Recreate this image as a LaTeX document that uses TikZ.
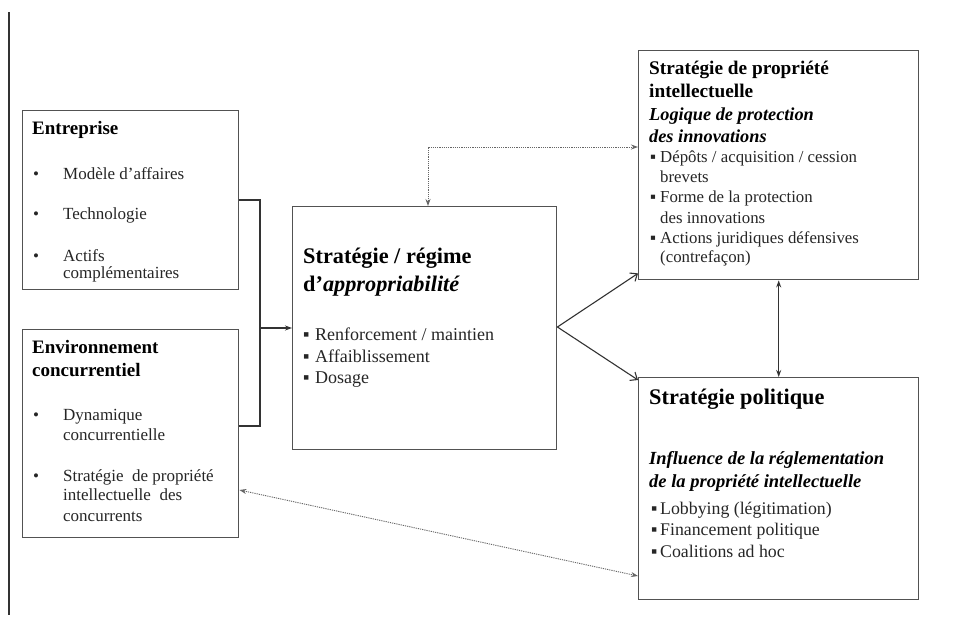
\documentclass[tikz,border=0pt]{standalone}
\usepackage{fontspec}
\setmainfont{Liberation Serif}
\usetikzlibrary{arrows.meta,calc}
\begin{document}
\begin{tikzpicture}[x=1pt,y=-1pt,
  box/.style={draw=black!68,line width=1.4pt,anchor=north west,inner sep=0pt},
  txt/.style={anchor=base west,inner sep=0pt,text=black!85},
  ltitle/.style={txt,text=black,font=\fontsize{19}{19}\selectfont\bfseries},
  litem/.style={txt,font=\fontsize{17}{17}\selectfont},
  ctitle/.style={txt,text=black,font=\fontsize{22.3}{22}\selectfont\bfseries},
  citem/.style={txt,font=\fontsize{18}{18}\selectfont},
  ititle/.style={txt,text=black,font=\fontsize{19.3}{19}\selectfont\bfseries},
  iital/.style={txt,text=black,font=\fontsize{18.3}{18}\selectfont\bfseries\itshape},
  iitem/.style={txt,font=\fontsize{16.8}{17}\selectfont},
  pital/.style={txt,text=black,font=\fontsize{18.5}{18}\selectfont\bfseries\itshape},
  pitem/.style={txt,font=\fontsize{17.8}{18}\selectfont},
  conn/.style={draw=black!80,line width=1.1pt},
  arr/.style={conn,-{Stealth[length=7pt,width=5pt]}},
  barb/.style={conn,-{Straight Barb[length=6pt,width=10pt]}},
  darr/.style={conn,{Stealth[length=7pt,width=5pt]}-{Stealth[length=7pt,width=5pt]}},
  dotl/.style={draw=black!60,line width=0.9pt,dash pattern=on 1.2pt off 1pt,
    {Stealth[length=7pt,width=5pt]}-{Stealth[length=7pt,width=5pt]}}
]
\useasboundingbox (0,0) rectangle (968,627);
\fill[white] (0,0) rectangle (968,627);
\draw[draw=black!80,line width=1.2pt] (9,12) -- (9,615);

% boxes
\node[box,minimum width=216pt,minimum height=179pt] (ent) at (22,110) {};
\node[box,minimum width=216pt,minimum height=208pt] (env) at (22,329) {};
\node[box,minimum width=264pt,minimum height=243pt] (cen) at (292,206) {};
\node[box,minimum width=280pt,minimum height=229pt] (ip) at (638,50) {};
\node[box,minimum width=280pt,minimum height=222pt] (pol) at (638,377) {};

% Entreprise
\node[ltitle] (e0) at (32,134) {Entreprise};
\node[litem] (e1) at (33,179) {\makebox[30pt][l]{•}Modèle d’affaires};
\node[litem] (e2) at (33,219) {\makebox[30pt][l]{•}Technologie};
\node[litem] (e3) at (33,261) {\makebox[30pt][l]{•}Actifs};
\node[litem] (e4) at (63,278) {complémentaires};

% Environnement
\node[ltitle] (v0) at (32,353) {Environnement};
\node[ltitle] (v1) at (32,376) {concurrentiel};
\node[litem] (v2) at (33,420) {\makebox[30pt][l]{•}Dynamique};
\node[litem] (v3) at (63,440) {concurrentielle};
\node[litem] (v4) at (33,481) {\makebox[30pt][l]{•}Stratégie\ \ de propriété};
\node[litem] (v5) at (63,500) {intellectuelle\ \ des};
\node[litem] (v6) at (63,521) {concurrents};

% Central
\node[ctitle] (c0) at (303,263) {Stratégie / régime};
\node[ctitle] (c1) at (303,291) {d’\textit{appropriabilité}};
\node[citem] (c2) at (303,340) {\makebox[12pt][l]{▪}Renforcement / maintien};
\node[citem] (c3) at (303,362) {\makebox[12pt][l]{▪}Affaiblissement};
\node[citem] (c4) at (303,383) {\makebox[12pt][l]{▪}Dosage};

% IP strategy
\node[ititle] (i0) at (649,74) {Stratégie de propriété};
\node[ititle] (i1) at (649,97) {intellectuelle};
\node[iital] (i2) at (649,120) {Logique de protection};
\node[iital] (i3) at (649,142) {des innovations};
\node[iitem] (i4) at (650,162) {\makebox[10pt][l]{▪}Dépôts / acquisition / cession};
\node[iitem] (i5) at (660,182) {brevets};
\node[iitem] (i6) at (650,202) {\makebox[10pt][l]{▪}Forme de la protection};
\node[iitem] (i7) at (660,223) {des innovations};
\node[iitem] (i8) at (650,243) {\makebox[10pt][l]{▪}Actions juridiques défensives};
\node[iitem] (i9) at (660,262) {(contrefaçon)};

% Political strategy
\node[ctitle] (p0) at (649,404) {Stratégie politique};
\node[pital] (p1) at (649,464) {Influence de la réglementation};
\node[pital] (p2) at (649,487) {de la propriété intellectuelle};
\node[pitem] (p3) at (651,514) {\makebox[9pt][l]{▪}Lobbying (légitimation)};
\node[pitem] (p4) at (651,535) {\makebox[9pt][l]{▪}Financement politique};
\node[pitem] (p5) at (651,557) {\makebox[9pt][l]{▪}Coalitions ad hoc};

% connectors
\coordinate (j1) at (260,200);
\coordinate (j2) at (260,426);
\coordinate (jm) at (260,328);
\draw[conn] (ent.east |- j1) -- (j1) -- (j2) -- (env.east |- j2);
\draw[arr] (jm) -- (cen.west |- jm);

\coordinate (cr) at (556,327);
\draw[barb] (cen.east |- cr) -- ($(ip.south west)+(0,-7)$);
\draw[barb] (cen.east |- cr) -- ($(pol.north west)+(0,3)$);
\draw[darr] (ip.south) -- (pol.north);

\coordinate (dc) at (428,147);
\draw[dotl] (cen.north -| dc) -- (dc) -- (ip.west |- dc);

\coordinate (de) at (238,490);
\coordinate (dp) at (638,576);
\draw[dotl] (env.east |- de) -- (pol.west |- dp);
\end{tikzpicture}
\end{document}
